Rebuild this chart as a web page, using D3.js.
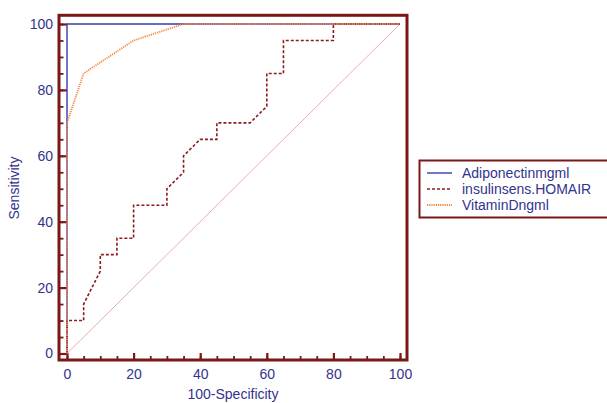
<!DOCTYPE html>
<html>
<head>
<meta charset="utf-8">
<script src="https://cdn.jsdelivr.net/npm/d3@7"></script>
<style>
  body { margin: 0; background: #fff; }
  svg { display: block; font-family: "Liberation Sans", Arial, sans-serif; }
</style>
</head>
<body>
<svg width="607" height="403"></svg>
<script>
const width = 607,
  height = 403;
const svg = d3.select('svg');

// ROC curves: [100-specificity, sensitivity]
const adiponectin = [[0, 0], [0, 100], [100, 100]];
const insulin = [
  [0, 0], [0, 10], [5, 10], [5, 15], [10, 25], [10, 30], [15, 30], [15, 35],
  [20, 35], [20, 45], [30, 45], [30, 50], [35, 55], [35, 60], [40, 65],
  [45, 65], [45, 70], [55, 70], [60, 75], [60, 85], [65, 85], [65, 95],
  [80, 95], [80, 100], [100, 100],
];
const vitaminD = [[0, 0], [0, 70], [5, 85], [20, 95], [35, 100], [100, 100]];
const diagonal = [[0, 0], [100, 100]];

const seriesNames = ['Adiponectinmgml', 'insulinsens.HOMAIR', 'VitaminDngml'];
const majorTicks = [0, 20, 40, 60, 80, 100];
const minorTicks = d3.range(0, 101, 5);

const frameColor = '#7a1818';
const textColor = '#33338c';

const x = d3.scaleLinear().domain([0, 100]).range([67, 400]);
const y = d3.scaleLinear().domain([0, 100]).range([353.5, 24]);

const line = d3
  .line()
  .x((d) => x(d[0]))
  .y((d) => y(d[1]));

// Frame
const frame = { left: 59, top: 15.3, right: 407, bottom: 360 };
svg
  .append('rect')
  .attr('x', frame.left)
  .attr('y', frame.top)
  .attr('width', frame.right - frame.left)
  .attr('height', frame.bottom - frame.top)
  .attr('fill', 'none')
  .attr('stroke', frameColor)
  .attr('stroke-width', 3);

// Inward ticks from the frame
function styleAxis(g, w) {
  g.select('.domain').remove();
  g.selectAll('.tick line').attr('stroke', frameColor).attr('stroke-width', w);
  g.selectAll('.tick text')
    .attr('fill', textColor)
    .style('font-size', '14px')
    .style('font-family', '"Liberation Sans", Arial, sans-serif');
}

svg
  .append('g')
  .attr('transform', `translate(${frame.left},0)`)
  .call(d3.axisLeft(y).tickValues(minorTicks).tickSize(-4.5).tickFormat(''))
  .call((g) => styleAxis(g, 1.8));
svg
  .append('g')
  .attr('transform', `translate(${frame.left},0)`)
  .call(d3.axisLeft(y).tickValues(majorTicks).tickSize(-8).tickPadding(6))
  .call((g) => styleAxis(g, 2.2));

svg
  .append('g')
  .attr('transform', `translate(0,${frame.bottom})`)
  .call(d3.axisBottom(x).tickValues(minorTicks).tickSize(-4).tickFormat(''))
  .call((g) => styleAxis(g, 1.8));
svg
  .append('g')
  .attr('transform', `translate(0,${frame.bottom})`)
  .call(d3.axisBottom(x).tickValues(majorTicks).tickSize(-7).tickPadding(9))
  .call((g) => styleAxis(g, 2.2));

// Axis titles
svg
  .append('text')
  .attr('x', 233)
  .attr('y', 399)
  .attr('text-anchor', 'middle')
  .attr('fill', textColor)
  .style('font-size', '14px')
  .text('100-Specificity');

svg
  .append('text')
  .attr('transform', 'translate(19,188) rotate(-90)')
  .attr('text-anchor', 'middle')
  .attr('fill', textColor)
  .style('font-size', '14px')
  .text('Sensitivity');

// Curves
const styles = [
  { data: adiponectin, stroke: '#3a3aae', width: 1.4, dash: null },
  { data: insulin, stroke: '#8b1c1c', width: 1.6, dash: '3,2' },
  { data: vitaminD, stroke: '#f5873a', width: 1.8, dash: '1.2,1' },
];

svg
  .append('path')
  .datum(diagonal)
  .attr('d', line)
  .attr('fill', 'none')
  .attr('stroke', '#e8b0a8')
  .attr('stroke-width', 1);

styles.forEach((s) => {
  svg
    .append('path')
    .datum(s.data)
    .attr('d', line)
    .attr('fill', 'none')
    .attr('stroke', s.stroke)
    .attr('stroke-width', s.width)
    .attr('stroke-dasharray', s.dash);
});

// Legend
const legend = svg.append('g');
legend
  .append('rect')
  .attr('x', 419.5)
  .attr('y', 160.5)
  .attr('width', 200)
  .attr('height', 57)
  .attr('fill', '#fff')
  .attr('stroke', frameColor)
  .attr('stroke-width', 2);

seriesNames.forEach((name, i) => {
  const cy = 173 + i * 16;
  legend
    .append('line')
    .attr('x1', 427)
    .attr('x2', 452)
    .attr('y1', cy)
    .attr('y2', cy)
    .attr('stroke', styles[i].stroke)
    .attr('stroke-width', styles[i].width)
    .attr('stroke-dasharray', styles[i].dash);
  legend
    .append('text')
    .attr('x', 462)
    .attr('y', cy + 5)
    .attr('fill', textColor)
    .style('font-size', '14px')
    .text(name);
});
</script>
</body>
</html>
